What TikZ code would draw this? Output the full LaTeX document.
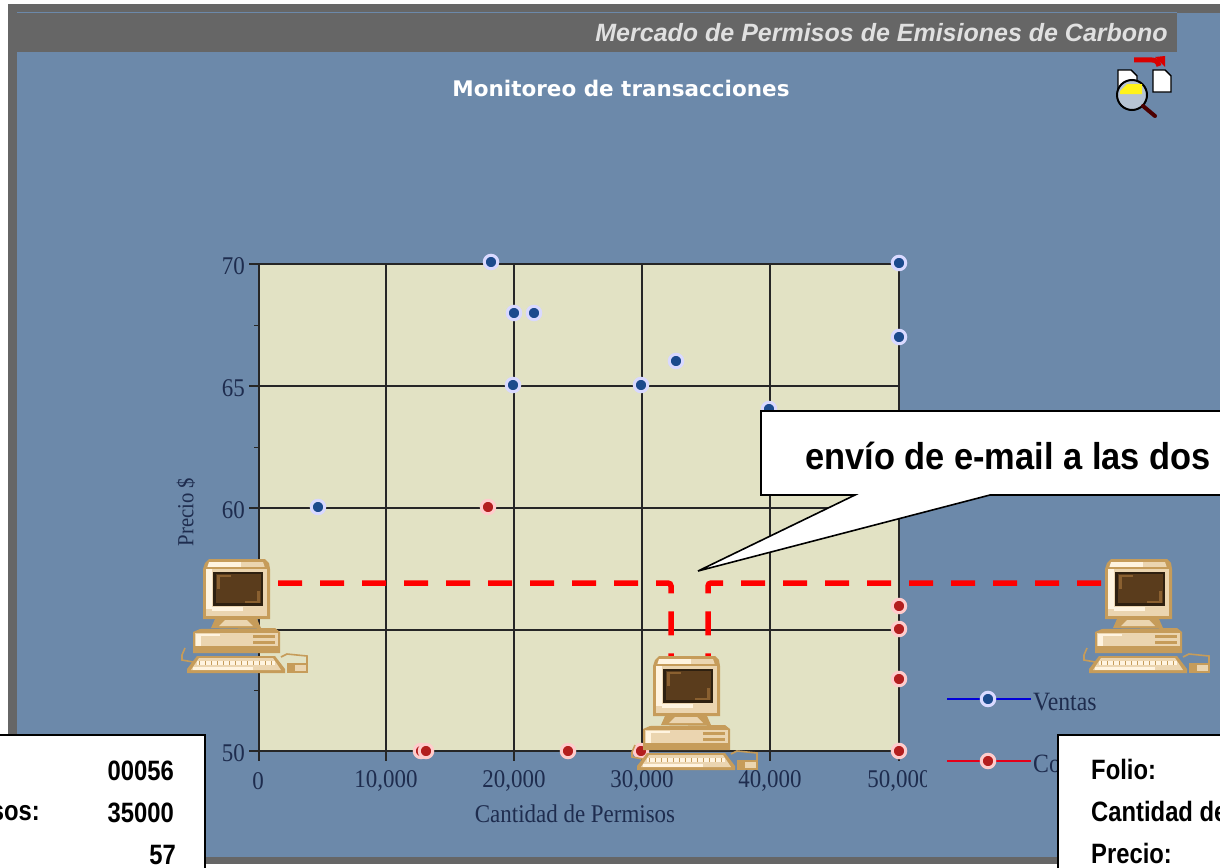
\documentclass[tikz,border=0pt]{standalone}
\usepackage{fontspec}
\setmainfont{Liberation Sans}
\newfontfamily\axisf[FakeStretch=0.9]{Liberation Serif}
\newfontfamily\boxf[FakeStretch=0.85]{Liberation Sans}
\newfontfamily\callf[FakeStretch=0.92]{Liberation Sans}
\newfontfamily\titlef{DejaVu Sans}
\definecolor{bgblue}{HTML}{6C89AA}
\definecolor{framegrey}{HTML}{666666}
\definecolor{plotbg}{HTML}{E2E2C4}
\definecolor{axiscol}{HTML}{1E2C4E}
\definecolor{pcline}{HTML}{C69C5A}
\definecolor{pccream}{HTML}{EBD5B0}
\definecolor{pclight}{HTML}{FFF4E0}
\definecolor{pcscreen}{HTML}{5A3C1C}
\definecolor{pcglow}{HTML}{8A6030}
\definecolor{pcdark}{HTML}{2E2010}
\definecolor{ptblue}{HTML}{1B4A8C}
\definecolor{ptred}{HTML}{B31E1E}
\tikzset{
  gridline/.style={draw=black!85,line width=1.5pt},
  axistext/.style={font=\axisf\fontsize{25.5}{25.5}\selectfont,text=axiscol,inner sep=0pt},
  ptblue/.style={circle,inner sep=0pt,minimum size=13.5pt,fill=ptblue,draw=white!85!blue,line width=3pt},
  ptred/.style={circle,inner sep=0pt,minimum size=13.5pt,fill=ptred,draw=white!80!red,line width=3pt},
  redlink/.style={draw=red,line width=5.5pt,dash pattern=on 24pt off 18pt,rounded corners=3pt},
  infobox/.style={draw=black,line width=1.6pt,fill=white},
  infotext/.style={font=\boxf\bfseries\fontsize{28}{28}\selectfont,inner sep=0pt,text=black},
  pc/.pic={
    % cables
    \draw[pcline,line width=1.6pt] (-18,89) -- (-21,96) -- (-21,101) -- (-10,103);
    \draw[pcline,line width=1.6pt] (78,98) -- (84,95) -- (104,97) -- (104,104);
    % monitor
    \fill[pcline] (6,0) -- (62,0) -- (66,4) -- (67,10) -- (67,60) -- (0,60) -- (0,10) -- (2,4) -- cycle;
    \fill[pccream] (3,10) -- (64,10) -- (64,57) -- (3,57) -- cycle;
    \fill[pclight] (3,10) rectangle (9,50);
    \fill[pclight] (9,48) rectangle (40,52);
    \fill[pclight] (6,3) -- (38,3) -- (38,9) -- (4,9) -- cycle;
    \fill[pccream] (38,3) -- (60,3) -- (62,9) -- (38,9) -- cycle;
    \fill[pcline] (4,8) rectangle (63,10);
    \fill[pcdark] (10,13) rectangle (60,47);
    \fill[pcscreen] (13,15) rectangle (58,44);
    \fill[pcglow] (14,16) rectangle (17,30);
    \fill[pcglow] (14,16) rectangle (28,18);
    \fill[pcglow] (54,32) rectangle (57,43);
    \fill[pcglow] (42,42) rectangle (57,44);
    % stand
    \fill[pcline] (12,60) -- (54,60) -- (58,69) -- (8,69) -- cycle;
    \fill[pccream] (22,61) -- (44,61) -- (50,67) -- (16,67) -- cycle;
    % base
    \fill[pcline] (-3,70) -- (72,69) -- (77,73) -- (77,94) -- (-10,94) -- (-10,73) -- cycle;
    \fill[pccream] (-8,74) rectangle (75,87);
    \fill[pclight] (-7,75) rectangle (-2,87);
    \fill[pclight] (-2,75) rectangle (17,76.5);
    \fill[pcline] (50,76) rectangle (72,79);
    \fill[pcline] (50,82) rectangle (72,85);
    \fill[pcline] (-8,89) rectangle (75,92);
    % keyboard
    \fill[pcline] (-6,97) -- (72,97) -- (82,110) -- (82,114) -- (-16,114) -- (-16,110) -- cycle;
    \fill[pccream] (-4,99) -- (70,99) -- (78,111) -- (-12,111) -- cycle;
    \fill[pclight] (-6,102) rectangle (72,106);
    \foreach \kx in {-4,2,...,68} \fill[pcline] (\kx,102) rectangle ++(1.3,4);
    \fill[pclight] (-10,108) rectangle (50,110.5);
    % mouse
    \fill[pcline] (84,104) rectangle (105,114);
    \fill[pccream] (92,106) rectangle (103,112);
  }
}
\begin{document}
\begin{tikzpicture}[x=1pt,y=-1pt]
\useasboundingbox (0,0) rectangle (1220,867);
\fill[white] (0,0) rectangle (1220,867);
% window
\fill[framegrey] (8,4) rectangle (1220,864);
\fill[bgblue] (17,13) rectangle (1220,857);
\fill[framegrey] (17,13) rectangle (1177,52);
\fill[bgblue] (17,12.5) rectangle (1177,13.5);
\node[anchor=east,inner sep=0pt,text=white!80!framegrey,font=\bfseries\itshape\fontsize{25}{25}\selectfont] (maintitle) at (1168,33) {Mercado de Permisos de Emisiones de Carbono};
\node[anchor=center,inner sep=0pt,text=white,font=\titlef\bfseries\fontsize{21.5}{22}\selectfont] (subtitle) at (621,88) {Monitoreo de transacciones};
% icon
\fill[white,draw=black,line width=1.4pt] (1118,70) -- (1131,70) -- (1137,76) -- (1137,90) -- (1118,90) -- cycle;
\fill[white,draw=black,line width=1.4pt] (1153,70) -- (1165,70) -- (1171,76) -- (1171,92) -- (1153,92) -- cycle;
\draw[red!85!black,line width=5pt] (1134,60) -- (1152,60) .. controls (1156,60) and (1158,62) .. (1159,66);
\fill[red!85!black] (1155,57) -- (1165,56) -- (1165,67) -- cycle;
\fill[bgblue!50!white,draw=black,line width=2pt] (1132,95) circle (15);
\fill[yellow!90!white] (1120,91) -- (1127,84) -- (1142,84) -- (1142,94) -- (1120,94) -- cycle;
\draw[black!70!red,line width=4pt,line cap=round] (1143,106) -- (1155,116);
% plot
\fill[plotbg] (259,264) rectangle (899,751);
\foreach \gx in {259,386,514,642,770,899} \draw[gridline] (\gx,264) -- (\gx,761);
\foreach \gy in {264,386,508,630,751} \draw[gridline] (249,\gy) -- (899,\gy);
\foreach \gy in {325,447,569,690} \draw[gridline,line width=1pt] (254,\gy) -- (259,\gy);
\node[axistext,anchor=east] (y70) at (245,266) {70};
\node[axistext,anchor=east] (y65) at (245,388) {65};
\node[axistext,anchor=east] (y60) at (245,510) {60};
\node[axistext,anchor=east] (y50) at (245,753) {50};
\node[axistext] (x0) at (258,781) {0};
\node[axistext] (x10) at (386,781) {10,000};
\node[axistext] (x20) at (514,781) {20,000};
\node[axistext] (x30) at (642,781) {30,000};
\node[axistext] (x40) at (770,781) {40,000};
\begin{scope}
\clip (850,765) rectangle (926,800);
\node[axistext] (x50) at (899,781) {50,000};
\end{scope}
\node[axistext] (xlabel) at (575,814) {Cantidad de Permisos};
\node[axistext,font=\axisf\fontsize{23}{23}\selectfont,rotate=90] (ylabel) at (186,512) {Precio \$};
% data
\foreach \n/\px/\py in {a/491/262,b/514/313,c/534/313,d/513/385,e/641/385,f/676/361,g/899/263,h/899/337,i/769/409,j/318/507}
  \node[ptblue] (blue\n) at (\px,\py) {};
\foreach \n/\px/\py in {a/488/507,b/899/606,c/899/629,d/899/679,e/899/751,f/421/751,g/426/751,h/568/751,i/641/751}
  \node[ptred] (red\n) at (\px,\py) {};
% legend
\coordinate (lvw) at (947,699);
\coordinate (lve) at (1031,699);
\coordinate (lcw) at (947,761);
\coordinate (lce) at (1031,761);
\draw[blue!85!black,line width=1.6pt] (lvw) -- (lve);
\draw[red!60!purple,line width=1.6pt] (lcw) -- (lce);
\node[ptblue] (legv) at (988,699) {};
\node[ptred] (legc) at (988,761) {};
\node[axistext,anchor=west,font=\axisf\fontsize{26.4}{26.4}\selectfont] (legvt) at (1033,702) {Ventas};
\node[axistext,anchor=west,font=\axisf\fontsize{26.4}{26.4}\selectfont] (legct) at (1033,764) {Co};
% connectors
\coordinate (pcLe) at (278,583);
\coordinate (pcRw) at (1101,583);
\coordinate (pcCa) at (671,656);
\coordinate (pcCb) at (708,656);
\draw[redlink] (pcLe) -| (pcCa);
\draw[redlink] (pcRw) -| (pcCb);
% computers
\pic (pcL) at (203,559) {pc};
\pic (pcC) at (653,656) {pc};
\pic (pcR) at (1105,559) {pc};
% callout
\coordinate (tailtip) at (698,571);
\fill[infobox] (761,411) -- (1222,411) -- (1222,495) -- (990,495) -- (tailtip) -- (855,495) -- (761,495) -- cycle;
\node[anchor=west,inner sep=0pt,font=\callf\bfseries\fontsize{37.4}{38}\selectfont] (calltext) at (805,456) {envío de e-mail a las dos};
% info boxes
\fill[infobox] (-3,735) rectangle (205,870);
\fill[infobox] (1058,735) rectangle (1223,870);
\node[infotext,anchor=east] (lv1) at (174,771) {00056};
\node[infotext,anchor=east] (lv2) at (174,813) {35000};
\node[infotext,anchor=east] (lv3) at (176,855) {57};
\node[infotext,anchor=east] (ll2) at (40,813) {sos:};
\node[infotext,anchor=west] (rl1) at (1091,769) {Folio:};
\node[infotext,anchor=west] (rl2) at (1091,811) {Cantidad de};
\node[infotext,anchor=west] (rl3) at (1091,853) {Precio:};
\end{tikzpicture}
\end{document}
